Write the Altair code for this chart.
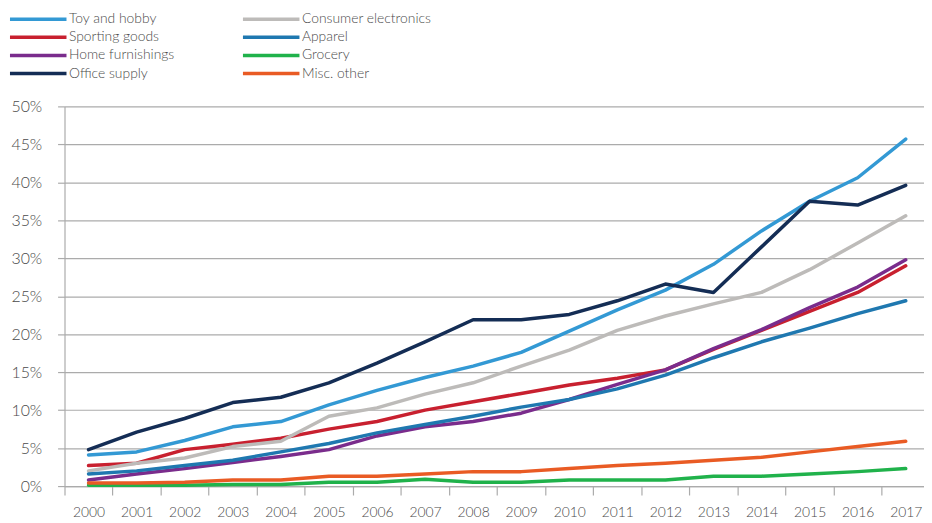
import altair as alt
import pandas as pd

years = list(range(2000, 2018))

toy_and_hobby = [4.1, 4.5, 6.0, 7.8, 8.5, 10.7, 12.6, 14.3, 15.8, 17.6, 20.4, 23.2, 25.8, 29.2, 33.6, 37.5, 40.6, 45.7]
consumer_electronics = [2.0, 3.0, 3.7, 5.2, 5.9, 9.2, 10.3, 12.1, 13.6, 15.8, 17.9, 20.5, 22.4, 24.0, 25.5, 28.5, 32.0, 35.6]
sporting_goods = [2.7, 3.0, 4.8, 5.5, 6.3, 7.5, 8.5, 10.0, 11.1, 12.2, 13.3, 14.2, 15.3, 18.0, 20.5, 23.0, 25.5, 29.0]
apparel = [1.6, 2.0, 2.7, 3.4, 4.5, 5.6, 7.0, 8.1, 9.2, 10.4, 11.4, 12.8, 14.6, 16.9, 19.0, 20.8, 22.7, 24.4]
home_furnishings = [0.8, 1.6, 2.3, 3.1, 3.9, 4.8, 6.6, 7.8, 8.5, 9.6, 11.4, 13.4, 15.3, 18.1, 20.6, 23.5, 26.2, 29.8]
grocery = [0.1, 0.1, 0.1, 0.2, 0.2, 0.5, 0.5, 0.9, 0.5, 0.5, 0.8, 0.8, 0.8, 1.3, 1.3, 1.6, 1.9, 2.3]
office_supply = [4.8, 7.1, 8.9, 11.0, 11.7, 13.6, 16.2, 19.0, 21.9, 21.9, 22.6, 24.4, 26.6, 25.5, 31.5, 37.5, 37.0, 39.6]
misc_other = [0.4, 0.4, 0.5, 0.8, 0.8, 1.3, 1.3, 1.6, 1.9, 1.9, 2.3, 2.7, 3.0, 3.4, 3.8, 4.5, 5.2, 5.9]

# legend fills column by column: left column first, then right column
series_names = ["Toy and hobby", "Sporting goods", "Home furnishings", "Office supply",
                "Consumer electronics", "Apparel", "Grocery", "Misc. other"]
series_values = [toy_and_hobby, sporting_goods, home_furnishings, office_supply,
                 consumer_electronics, apparel, grocery, misc_other]
series_colors = ["#3399D4", "#C8202F", "#7A2C8C", "#142D55",
                 "#BDBBB9", "#1F78B0", "#20B24B", "#E95B24"]
draw_order = [6, 2, 4, 7, 1, 3, 0, 5]
y_ticks = [0, 5, 10, 15, 20, 25, 30, 35, 40, 45, 50]
x_ticks = [y - 0.5 for y in years] + years

rows = []
for name, vals, o in zip(series_names, series_values, draw_order):
    for yr, v in zip(years, vals):
        rows.append({"year": yr, "series": name, "value": v, "ord": o})
df = pd.DataFrame(rows)

FONT = "Lato"
TEXT = "#4a4a4a"
GRID = "#ababab"

chart = alt.Chart(df).mark_line(strokeWidth=3.5, strokeCap="round", strokeJoin="round").encode(
    x=alt.X("year:Q",
            scale=alt.Scale(domain=[1999.5, 2017.38], nice=False, zero=False),
            axis=alt.Axis(title=None, values=x_ticks, grid=False,
                          labelExpr="datum.value % 1 === 0 ? '' + datum.value : ''",
                          labelOverlap=False, labelFlush=False,
                          tickOpacity=alt.ConditionalAxisNumber(
                              condition={"test": "datum.value % 1 === 0", "value": 0}, value=1),
                          domainColor=GRID, domainWidth=1.2, tickColor=GRID, tickWidth=1.2,
                          tickSize=9, labelPadding=11, labelFontSize=14, labelFont=FONT,
                          labelFontWeight=300, labelColor=TEXT)),
    y=alt.Y("value:Q", scale=alt.Scale(domain=[0, 50], nice=False),
            axis=alt.Axis(title=None, values=y_ticks, labelExpr="datum.value + '%'",
                          tickSize=7, tickColor=GRID, tickWidth=1.2, gridColor=GRID,
                          gridWidth=1.2, domainColor=GRID, domainWidth=1.2,
                          labelPadding=16, labelFontSize=16, labelFont=FONT,
                          labelFontWeight=300, labelColor=TEXT)),
    color=alt.Color("series:N", scale=alt.Scale(domain=series_names, range=series_colors),
                    legend=alt.Legend(title=None, orient="none", legendX=-57, legendY=-97,
                                      padding=2, columns=2, symbolType="M-6,0H6",
                                      symbolSize=90.25, symbolStrokeWidth=3.5,
                                      symbolOffset=21.5,
                                      labelFontSize=14, labelFont=FONT,
                                      labelFontWeight=300, labelColor=TEXT, labelOffset=24,
                                      columnPadding=62, rowPadding=4.3)),
    order=alt.Order("ord:Q"),
).properties(width=867, height=383, padding=0).configure_view(stroke=None)

chart.save("out.html", embed_options={"renderer": "svg", "actions": False})
